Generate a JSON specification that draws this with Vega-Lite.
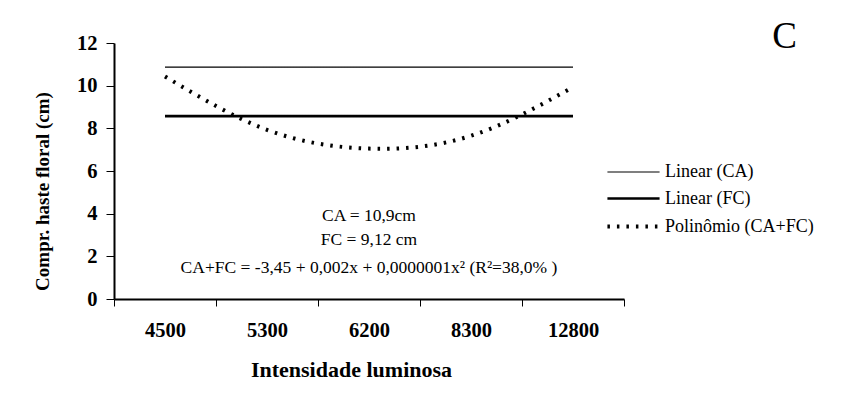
{
  "$schema": "https://vega.github.io/schema/vega-lite/v6.json",
  "width": 510,
  "height": 256,
  "autosize": {"type": "none"},
  "padding": {"left": 114, "top": 43, "right": 241, "bottom": 117},
  "background": "white",
  "config": {
    "view": {"stroke": null},
    "font": "Times New Roman"
  },
  "title": {
    "text": "C",
    "anchor": "end",
    "frame": "group",
    "orient": "top",
    "font": "Times New Roman",
    "fontSize": 37,
    "fontWeight": "normal",
    "color": "black",
    "baseline": "alphabetic",
    "offset": 0,
    "dx": 173,
    "dy": 52
  },
  "datasets": {
    "series": [
      {"intensidade": "4500", "serie": "Linear (CA)", "valor": 10.87},
      {"intensidade": "5300", "serie": "Linear (CA)", "valor": 10.87},
      {"intensidade": "6200", "serie": "Linear (CA)", "valor": 10.87},
      {"intensidade": "8300", "serie": "Linear (CA)", "valor": 10.87},
      {"intensidade": "12800", "serie": "Linear (CA)", "valor": 10.87},
      {"intensidade": "4500", "serie": "Linear (FC)", "valor": 8.57},
      {"intensidade": "5300", "serie": "Linear (FC)", "valor": 8.57},
      {"intensidade": "6200", "serie": "Linear (FC)", "valor": 8.57},
      {"intensidade": "8300", "serie": "Linear (FC)", "valor": 8.57},
      {"intensidade": "12800", "serie": "Linear (FC)", "valor": 8.57},
      {"intensidade": "4500", "serie": "Polinômio (CA+FC)", "valor": 10.43},
      {"intensidade": "5300", "serie": "Polinômio (CA+FC)", "valor": 7.93},
      {"intensidade": "6200", "serie": "Polinômio (CA+FC)", "valor": 7.05},
      {"intensidade": "8300", "serie": "Polinômio (CA+FC)", "valor": 7.65},
      {"intensidade": "12800", "serie": "Polinômio (CA+FC)", "valor": 9.93}
    ],
    "notes": [
      {"intensidade": "6200", "valor": 3.66, "texto": "CA = 10,9cm"},
      {"intensidade": "6200", "valor": 2.53, "texto": "FC = 9,12 cm"},
      {"intensidade": "6200", "valor": 1.22, "texto": "CA+FC = -3,45 + 0,002x + 0,0000001x² (R²=38,0% )"}
    ]
  },
  "layer": [
    {
      "data": {"name": "series"},
      "mark": {"type": "line", "interpolate": "natural"},
      "encoding": {
        "x": {
          "field": "intensidade",
          "type": "ordinal",
          "sort": ["4500", "5300", "6200", "8300", "12800"],
          "scale": {"paddingInner": 0, "paddingOuter": 0},
          "axis": {
            "title": "Intensidade luminosa",
            "titleFont": "Times New Roman",
            "titleFontSize": 22,
            "titleFontWeight": "bold",
            "titleColor": "black",
            "titlePadding": 19,
            "titleX": 237,
            "labelFont": "Times New Roman",
            "labelFontSize": 20.5,
            "labelFontWeight": "bold",
            "labelColor": "black",
            "labelAngle": 0,
            "labelPadding": 14,
            "tickBand": "extent",
            "tickSize": 7,
            "tickColor": "black",
            "tickWidth": 1,
            "domainColor": "black",
            "domainWidth": 2,
            "grid": false
          }
        },
        "y": {
          "field": "valor",
          "type": "quantitative",
          "scale": {"domain": [0, 12], "nice": false},
          "axis": {
            "title": "Compr. haste floral (cm)",
            "titleFont": "Times New Roman",
            "titleFontSize": 19,
            "titleFontWeight": "bold",
            "titleColor": "black",
            "titlePadding": 24,
            "titleY": 148,
            "labelFont": "Times New Roman",
            "labelFontSize": 20.5,
            "labelFontWeight": "bold",
            "labelColor": "black",
            "labelPadding": 9,
            "values": [0, 2, 4, 6, 8, 10, 12],
            "tickSize": 8,
            "tickColor": "black",
            "tickWidth": 1,
            "domainColor": "black",
            "domainWidth": 2,
            "grid": false
          }
        },
        "color": {
          "field": "serie",
          "type": "nominal",
          "scale": {
            "domain": ["Linear (CA)", "Linear (FC)", "Polinômio (CA+FC)"],
            "range": ["black", "black", "black"]
          },
          "legend": {
            "title": null,
            "orient": "none",
            "legendX": 504,
            "legendY": 115,
            "symbolType": "M-2,0H2",
            "symbolSize": 680,
            "symbolFillColor": "transparent",
            "labelFont": "Times New Roman",
            "labelFontSize": 18,
            "labelColor": "black",
            "labelOffset": 16,
            "rowPadding": 3,
            "symbolStrokeColor": "black"
          }
        },
        "strokeWidth": {
          "field": "serie",
          "type": "nominal",
          "scale": {
            "domain": ["Linear (CA)", "Linear (FC)", "Polinômio (CA+FC)"],
            "range": [1.2, 4, 1.3]
          },
          "legend": null
        },
        "strokeDash": {
          "field": "serie",
          "type": "nominal",
          "scale": {
            "domain": ["Linear (CA)", "Linear (FC)", "Polinômio (CA+FC)"],
            "range": [[1, 0], [1, 0], [2.5, 7]]
          },
          "legend": null
        }
      }
    },
    {
      "data": {"name": "notes"},
      "mark": {
        "type": "text",
        "font": "Times New Roman",
        "fontSize": 17.5,
        "color": "black",
        "align": "center",
        "baseline": "alphabetic"
      },
      "encoding": {
        "x": {"field": "intensidade", "type": "ordinal", "sort": ["4500", "5300", "6200", "8300", "12800"], "bandPosition": 0.5},
        "y": {"field": "valor", "type": "quantitative"},
        "text": {"field": "texto"}
      }
    }
  ]
}
